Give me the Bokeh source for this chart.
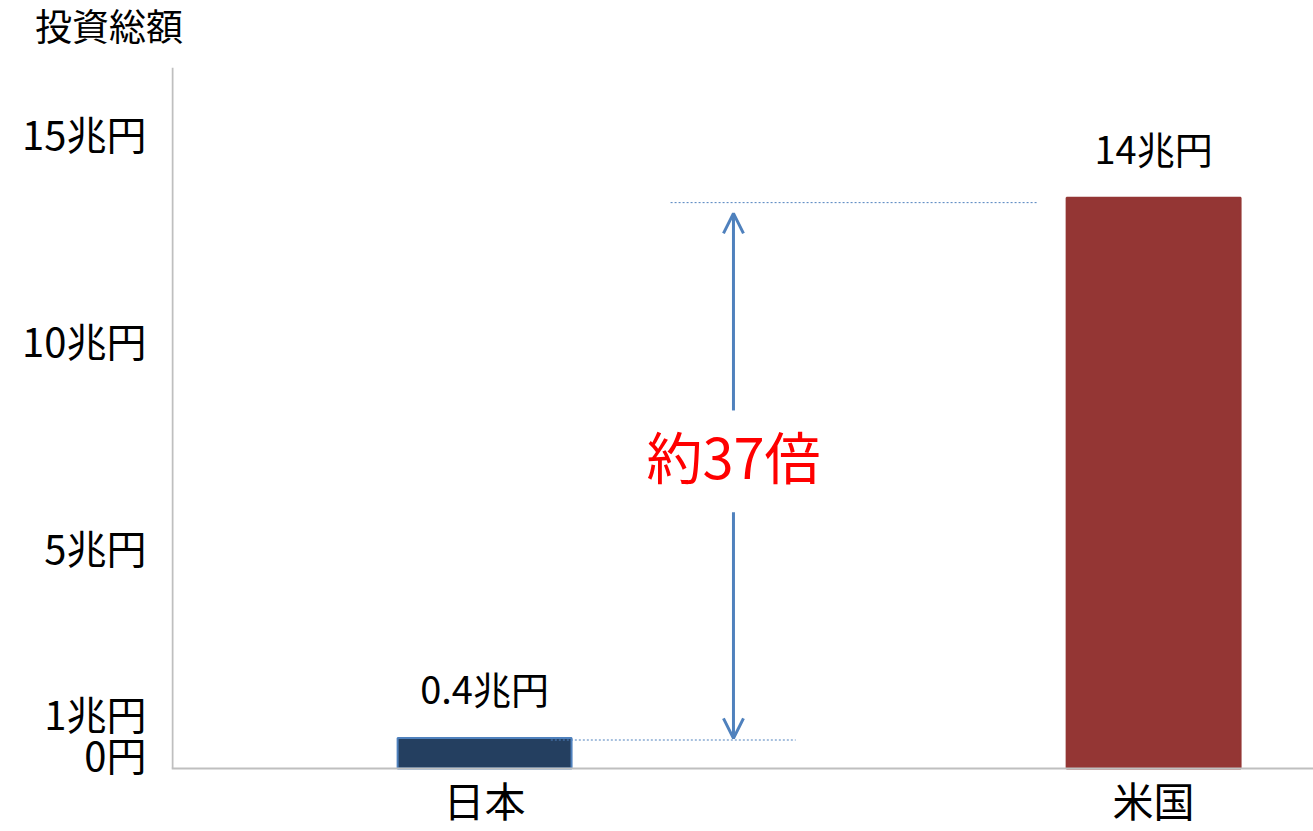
from bokeh.plotting import figure
from bokeh.layouts import column
from bokeh.models import (Range1d, Arrow, OpenHead, Label, LabelSet, ColumnDataSource,
                          FixedTicker, AllLabels, Span, Div)
from bokeh.core.properties import value
from bokeh.embed import file_html
from bokeh.resources import INLINE

# ---- data ----
categories = ["日本", "米国"]
cat_x = [1, 2]
investment = [0.4, 13.45]          # 兆円, bar heights as drawn
value_labels = ["0.4兆円", "14兆円"]
y_ticks = [0, 1, 5, 10, 15]
y_tick_labels = ["0円", "1兆円", "5兆円", "10兆円", "15兆円"]
ratio_text = "約37倍"
title_text = "投資総額"
bar_colors = ["#243F60", "#943634"]
bar_edges = ["#4F81BD", "#943634"]

FONT = "Noto Sans CJK JP"
BLUE = "#4F81BD"
GRAY = "#BFBFBF"
Y0 = -0.338        # baseline (axis line) position
X0, X1 = 0.532, 2.239

title_div = Div(text=title_text, width=1313, height=67, margin=0,
                styles={"font-family": FONT, "font-size": "37px", "line-height": "1",
                        "color": "black", "padding-left": "35px", "padding-top": "7px",
                        "box-sizing": "border-box", "white-space": "nowrap"})

p = figure(width=1313, height=764, output_backend="svg", toolbar_location=None,
           x_range=Range1d(X0, X1), y_range=Range1d(-1.86, 16.594),
           min_border_left=171, min_border_right=0, min_border_top=0,
           min_border_bottom=0, margin=0)
p.outline_line_color = None
p.grid.visible = False
p.background_fill_color = "white"
p.border_fill_color = "white"

# y axis (labels only, line drawn separately so it stops at the baseline)
p.yaxis.ticker = FixedTicker(ticks=y_ticks)
p.yaxis.major_label_overrides = {t: l for t, l in zip(y_ticks, y_tick_labels)}
p.yaxis.major_label_policy = AllLabels()
p.yaxis.major_tick_line_color = None
p.yaxis.minor_tick_line_color = None
p.yaxis.axis_line_color = None
p.yaxis.major_label_text_font = FONT
p.yaxis.major_label_text_font_size = "40px"
p.yaxis.major_label_text_color = "black"
p.yaxis.major_label_standoff = 19

p.xaxis.visible = False

# axis lines
p.add_layout(Span(location=Y0, dimension="width", line_color=GRAY, line_width=2))
p.segment(x0=[X0 + 0.0015], y0=[Y0], x1=[X0 + 0.0015], y1=[16.594],
          line_color=GRAY, line_width=2)

src = ColumnDataSource(dict(x=cat_x, top=investment, cat=categories,
                            lab=value_labels, fill=bar_colors, edge=bar_edges))

# bars
p.vbar(x="x", top="top", bottom=Y0, width=0.26, source=src,
       fill_color="fill", line_color="edge", line_width=2)

# value labels
p.add_layout(LabelSet(x="x", y="top", text="lab", source=src, text_align="center",
                      text_baseline="bottom", y_offset=23, text_font=value(FONT),
                      text_font_size="38px", text_color="black"))

# category labels (below the baseline)
p.text(x="x", y=Y0, text="cat", source=src, text_align="center",
       text_baseline="middle", y_offset=31, text_font=value(FONT),
       text_font_size="41px", text_color="black")

# guide lines
p.segment(x0=[1.278, 1.099], y0=[13.33, 0.35], x1=[1.827, 1.465], y1=[13.33, 0.35],
          line_color=BLUE, line_width=1, line_dash="2 2")

# arrows
ax = 1.372
p.add_layout(Arrow(end=OpenHead(size=20, line_color=BLUE, line_width=3),
                   x_start=ax, y_start=8.31, x_end=ax, y_end=13.07,
                   line_color=BLUE, line_width=3))
p.add_layout(Arrow(end=OpenHead(size=20, line_color=BLUE, line_width=3),
                   x_start=ax, y_start=5.85, x_end=ax, y_end=0.39,
                   line_color=BLUE, line_width=3))

# ratio text
p.add_layout(Label(x=ax, y=7.25, text=ratio_text, text_align="center",
                   text_baseline="middle", text_font=FONT, text_font_size="56px",
                   text_color="#FF0000"))

layout = column(title_div, p, spacing=0, margin=0)
open("out.html", "w").write(file_html(layout, INLINE))
